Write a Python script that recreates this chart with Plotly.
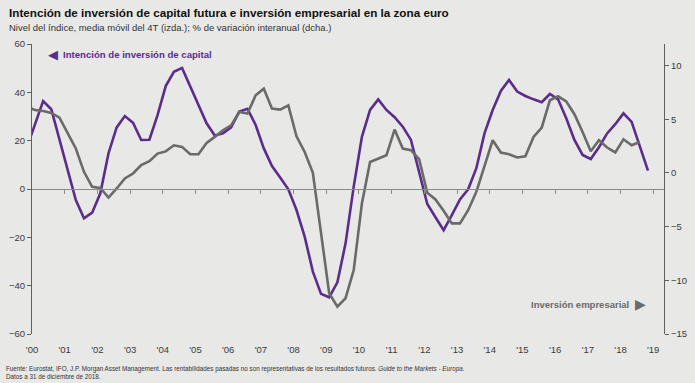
import plotly.graph_objects as go

# ---------------- data ----------------
# quarterly observations from Q4 1999 to Q4 2018 (first point is clipped by the axis)
start_year = 1999.84
quarter_step = 0.25

capital_intentions = [  # index level, 4Q moving average (left axis)
    17, 27, 36.4, 33, 20.5, 8, -4.6, -12.1, -9.8, -1.8,
    14.8, 25.5, 30.2, 27.4, 20.3, 20.4, 30.6, 42.6, 48.5, 50.1,
    42.3, 34.8, 27.2, 22.1, 23, 25.5, 32, 33.2, 26.5, 16.8,
    9.5, 4.8, -0.1, -8.7, -19.7, -34.2, -43.4, -44.8, -38.6, -22.5,
    1, 21.6, 32.7, 37.1, 32.7, 29.7, 25.8, 20.3, 6.5, -6.2,
    -11.7, -17, -10.8, -4.3, -0.1, 8.6, 23, 32.7, 40.6, 45.1,
    40.3, 38.5, 37.1, 35.9, 39.3, 37.1, 29.3, 20.3, 14.1, 12.4,
    17.3, 23, 26.8, 31.3, 27.8, 17.7, 7.6,
]

business_investment = [  # % y/y (right axis)
    6.2, 5.85, 5.76, 5.58, 5.15, 3.66, 2.27, 0.1, -1.3, -1.4,
    -2.3, -1.45, -0.52, -0.06, 0.72, 1.09, 1.8, 2.0, 2.57, 2.42,
    1.74, 1.74, 2.79, 3.35, 3.97, 4.43, 5.67, 5.52, 7.22, 7.84,
    5.98, 5.89, 6.29, 3.41, 1.95, 0.0, -5.63, -11.2, -12.45, -11.67,
    -9.04, -2.85, 1.02, 1.34, 1.64, 4.03, 2.27, 2.11, 1.27, -1.86,
    -2.47, -3.53, -4.7, -4.7, -3.47, -1.77, 0.72, 3.04, 1.9, 1.74,
    1.43, 1.55, 3.35, 4.22, 6.76, 7.13, 6.66, 5.46, 3.81, 2.02,
    3.04, 2.36, 1.9, 3.13, 2.57, 2.88,
]

year_ticks = list(range(2000, 2020))
year_labels = ["'%02d" % (y % 100) for y in year_ticks]
left_ticks = [60, 40, 20, 0, -20, -40, -60]
right_ticks = [10, 5, 0, -5, -10, -15]

x_cap = [start_year + quarter_step * i for i in range(len(capital_intentions))]
x_inv = [start_year + quarter_step * i for i in range(len(business_investment))]

# ---------------- style ----------------
W, H = 695, 383
ML, MR, MT, MB = 31.5, 31, 44, 49
BG = "#e8e8e6"
PURPLE = "#5a2d8c"
GREY = "#6a6a6a"
AXIS = "#5f5f5f"
FONT = "Liberation Sans, Arial, sans-serif"
XRANGE = [2000, 2019.33]

def px(x):
    return (x - ML) / (W - ML - MR)

def py(y):
    return (H - MB - y) / (H - MT - MB)

fig = go.Figure()
fig.add_trace(go.Scatter(x=x_cap, y=capital_intentions, mode="lines",
                         line=dict(color=PURPLE, width=2.6), xaxis="x", yaxis="y",
                         showlegend=False, hoverinfo="skip"))
fig.add_trace(go.Scatter(x=x_inv, y=business_investment, mode="lines",
                         line=dict(color=GREY, width=2.6), xaxis="x2", yaxis="y2",
                         showlegend=False, hoverinfo="skip"))

tickfont = dict(family=FONT, size=9.5, color="#3a3a3a")

fig.update_layout(
    width=W, height=H,
    margin=dict(l=ML, r=MR, t=MT, b=MB, pad=0, autoexpand=False),
    paper_bgcolor=BG, plot_bgcolor=BG,
    xaxis=dict(range=XRANGE, tickvals=year_ticks, ticktext=year_labels, automargin=False,
               showgrid=False, zeroline=False, showline=False,
               ticks="outside", ticklen=7, tickcolor=BG, tickfont=tickfont),
    xaxis2=dict(range=XRANGE, overlaying="x", anchor="free", position=0.5, automargin=False,
                tickvals=year_ticks[1:], showticklabels=False,
                showgrid=False, zeroline=False, showline=True, linecolor="#8a8a8a",
                linewidth=1.2, ticks="outside", ticklen=4, tickcolor="#8a8a8a"),
    yaxis=dict(range=[-60, 60], tickvals=left_ticks, showgrid=False, zeroline=False,
               automargin=False,
               showline=True, linecolor=AXIS, linewidth=1.2, ticks="outside",
               ticklen=4, tickcolor=AXIS, tickfont=tickfont),
    yaxis2=dict(range=[-15, 12], tickvals=right_ticks, overlaying="y", side="right",
                anchor="x2", showgrid=False, zeroline=False, showline=True, automargin=False,
                linecolor=AXIS, linewidth=1.2, ticks="outside", ticklen=4,
                tickcolor=AXIS, tickfont=tickfont),
)

ann = [
    dict(x=px(6), y=py(13), text="<b>Intención de inversión de capital futura e inversión empresarial en la zona euro</b>",
         font=dict(family=FONT, size=11.7, color="#111111"), xanchor="left", yanchor="middle"),
    dict(x=px(6), y=py(28), text="Nivel del índice, media móvil del 4T (izda.); % de variación interanual (dcha.)",
         font=dict(family=FONT, size=9.5, color="#333333"), xanchor="left", yanchor="middle"),
    dict(x=px(60), y=py(55), text="◀", font=dict(family="DejaVu Sans", size=13, color=PURPLE),
         xanchor="right", yanchor="middle"),
    dict(x=px(60.5), y=py(55), text="<b>Intención de inversión de capital</b>",
         font=dict(family=FONT, size=9.6, color=PURPLE), xanchor="left", yanchor="middle"),
    dict(x=px(630.5), y=py(304), text="<b>Inversión empresarial</b>",
         font=dict(family=FONT, size=9.5, color="#6a6a6a"), xanchor="right", yanchor="middle"),
    dict(x=px(633), y=py(304), text="▶", font=dict(family="DejaVu Sans", size=14, color="#6a6a6a"),
         xanchor="left", yanchor="middle"),
    dict(x=px(3), y=py(368.5), text="Fuente: Eurostat, IFO, J.P. Morgan Asset Management. Las rentabilidades pasadas no son representativas de los resultados futuros. <i>Guide to the Markets - Europa.</i>",
         font=dict(family=FONT, size=6.3, color="#333333"), xanchor="left", yanchor="middle"),
    dict(x=px(3), y=py(376.5), text="Datos a 31 de diciembre de 2018.",
         font=dict(family=FONT, size=6.3, color="#333333"), xanchor="left", yanchor="middle"),
]
for a in ann:
    a.update(xref="paper", yref="paper", showarrow=False)
fig.update_layout(annotations=ann)

fig.write_html("out.html", config={"displayModeBar": False},
               post_script="document.body.style.margin='0px';document.body.style.overflow='hidden';")
